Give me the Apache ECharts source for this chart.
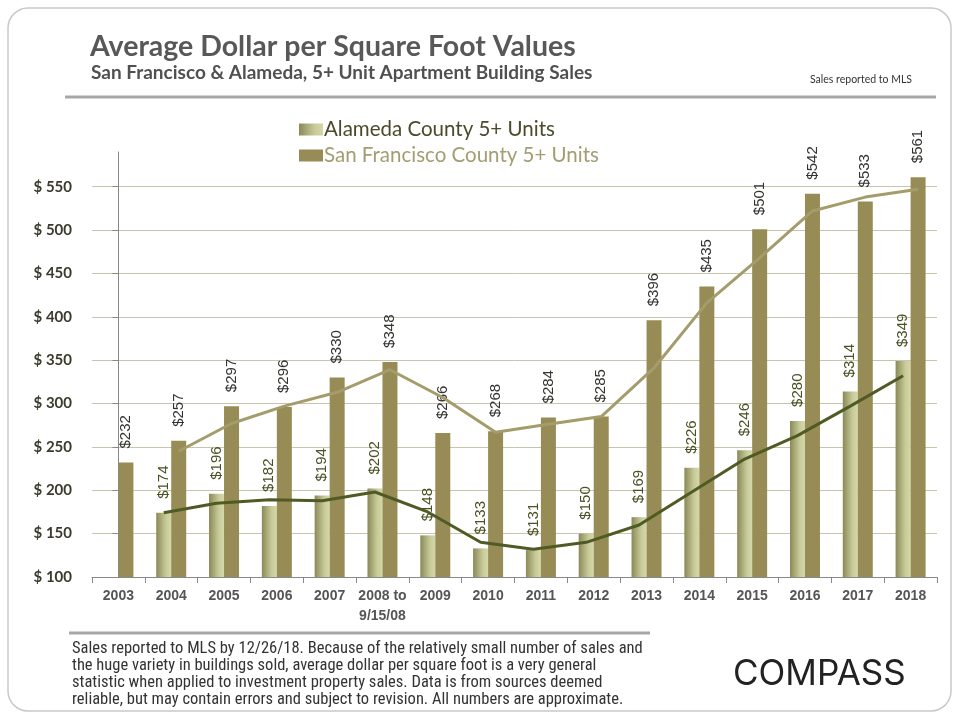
<!DOCTYPE html>
<html>
<head>
<meta charset="utf-8">
<script src="https://cdn.jsdelivr.net/npm/echarts@6/dist/echarts.min.js"></script>
<style>
html,body{margin:0;padding:0;background:#fff;}
#chart{width:960px;height:720px;}
</style>
</head>
<body>
<div id="chart"></div>
<script>
const categories = ['2003','2004','2005','2006','2007','2008 to\n9/15/08','2009','2010','2011','2012','2013','2014','2015','2016','2017','2018'];
const alameda = [null,174,196,182,194,202,148,133,131,150,169,226,246,280,314,349];
const sanFrancisco = [232,257,297,296,330,348,266,268,284,285,396,435,501,542,533,561];
// trend lines
const alamedaTrend = [null,174,185,189,188,198,175,140,132,140,160,198,236,263,297,332];
const sfTrend = [null,245,277,297,313,339,307,267,276,285,341,416,468,522,538,547];
const yTicks = {min:100, max:590, interval:50};

const gridLeft = 92, gridRight = 23;
const barW = 15;
const catW = (960 - gridLeft - gridRight) / categories.length;
const off = (barW / 2) / catW;

const chart = echarts.init(document.getElementById('chart'));
const labelBase = {show:true, position:'top', rotate:90, align:'left', verticalAlign:'middle', distance:14,
  fontFamily:'Liberation Sans, Arial, sans-serif', fontSize:15,
  formatter: p => (p.value == null ? '' : '$' + p.value)};

chart.setOption({
  animation:false,
  backgroundColor:'#fff',
  graphic:[
    {type:'rect', shape:{x:8,y:8,width:943,height:703,r:20}, style:{fill:'none', stroke:'#c9c9c9', lineWidth:1.5}},
    {type:'text', left:90, top:32, style:{text:'Average Dollar per Square Foot Values', fill:'#585858', font:'bold 28.5px Lato, sans-serif'}},
    {type:'text', left:91, top:63, style:{text:'San Francisco & Alameda, 5+ Unit Apartment Building Sales', fill:'#505050', font:'bold 19px Lato, sans-serif'}},
    {type:'text', left:810, top:74, style:{text:'Sales reported to MLS', fill:'#333', font:'10.5px "Liberation Sans Narrow", Lato, sans-serif'}},
    {type:'line', shape:{x1:65,y1:97,x2:936,y2:97}, style:{stroke:'#a7a7a7', lineWidth:3}},
    {type:'line', shape:{x1:69,y1:633,x2:650,y2:633}, style:{stroke:'#a7a7a7', lineWidth:3}},
    {type:'text', left:72, top:640, style:{text:
      'Sales reported to MLS by 12/26/18. Because of the relatively small number of sales and\n' +
      'the huge variety in buildings sold, average dollar per square foot is a very general\n' +
      'statistic when applied to investment property sales. Data is from sources deemed\n' +
      'reliable, but may contain errors and subject to revision. All numbers are approximate.',
      fill:'#333', font:'16.5px "Liberation Sans Narrow", "Roboto Condensed", sans-serif', lineHeight:17}},
    {type:'text', left:733, top:657, style:{text:'COMPASS', fill:'#222', font:'400 35px Inter, Lato, sans-serif'}}
  ],
  legend:{
    orient:'vertical', left:294, top:114, itemWidth:24, itemGap:5, itemHeight:12, icon:'rect',
    textStyle:{fontFamily:'Lato, sans-serif', fontSize:20.5, padding:[0,0,0,-4]},
    data:[
      {name:'Alameda County 5+ Units', textStyle:{color:'#4b4a2b'}},
      {name:'San Francisco County 5+ Units', textStyle:{color:'#a39d72'}}
    ]
  },
  grid:{left:gridLeft, right:gridRight, top:152, bottom:143},
  xAxis:[
    {type:'category', data:categories,
     axisLine:{lineStyle:{color:'#888', width:1}},
     axisTick:{show:true, length:6, lineStyle:{color:'#888'}},
     axisLabel:{color:'#555', fontFamily:'Liberation Sans, Arial, sans-serif', fontWeight:'bold', fontSize:14, margin:9, lineHeight:20, interval:0}},
    {type:'value', min:-0.5, max:categories.length-0.5, show:false}
  ],
  yAxis:{type:'value', min:yTicks.min, max:yTicks.max, interval:yTicks.interval,
    axisLine:{show:true, lineStyle:{color:'#888'}},
    axisTick:{show:true, length:6, lineStyle:{color:'#888'}},
    splitLine:{show:true, showMaxLine:false, lineStyle:{color:'#c9c5aa', width:1}},
    axisLabel:{showMaxLabel:false, margin:20, color:'#3b3a2c', fontFamily:'Lato, sans-serif', fontWeight:'bold', fontSize:15,
      formatter: v => '$ ' + v}
  },
  series:[
    {name:'Alameda County 5+ Units', type:'bar', data:alameda, barWidth:barW, barGap:'0%',
     itemStyle:{color:new echarts.graphic.LinearGradient(0,0,1,0,[
       {offset:0,color:'#8a8958'},{offset:0.65,color:'#c8cb99'},{offset:1,color:'#d4d7a7'}])},
     label:Object.assign({}, labelBase, {color:'#4a5224'})},
    {name:'San Francisco County 5+ Units', type:'bar', data:sanFrancisco, barWidth:barW,
     itemStyle:{color:'#978c55'},
     label:Object.assign({}, labelBase, {color:'#333330'})},
    {name:'Alameda trend', type:'line', xAxisIndex:1, z:5, symbol:'none',
     data: alamedaTrend.map((v,i) => [i - off, v]),
     lineStyle:{color:'#4f5a24', width:3}},
    {name:'SF trend', type:'line', xAxisIndex:1, z:5, symbol:'none',
     data: sfTrend.map((v,i) => [i + off, v]),
     lineStyle:{color:'#a49c6b', width:3}}
  ]
});
</script>
</body>
</html>
